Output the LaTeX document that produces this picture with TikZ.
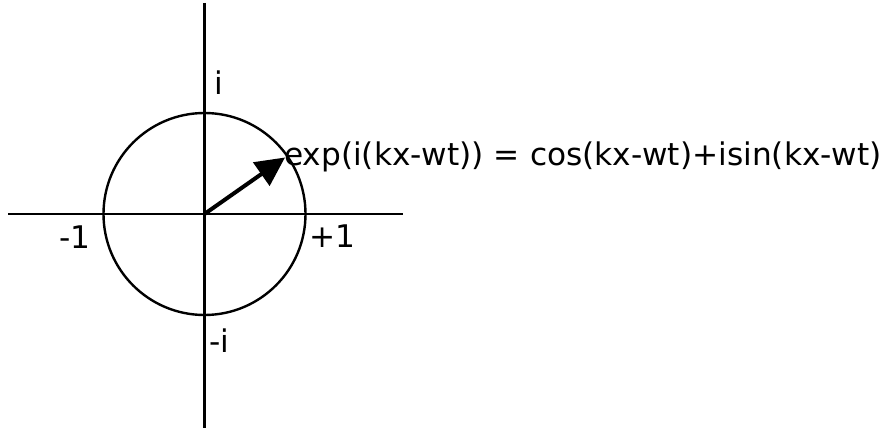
\documentclass[tikz,border=0pt]{standalone}
\usepackage{fontspec}
\setmainfont{DejaVu Sans}
\usetikzlibrary{arrows.meta}
\tikzset{
  axis/.style={line width=2.4pt},
  lbl/.style={inner sep=0pt, anchor=base west, font=\fontsize{31.2}{36}\selectfont},
  vec/.style={line width=4pt, -{Triangle[length=29pt,width=28pt]}}
}
\begin{document}
\begin{tikzpicture}[x=1pt,y=-1pt]
\useasboundingbox (0,0) rectangle (890,430);
\coordinate (O) at (204.5,214);
\coordinate (xl) at (8,214);
\coordinate (xr) at (403,214);
\coordinate (yt) at (204.5,3);
\coordinate (yb) at (204.5,428);
\coordinate (tip) at (285,157.5);
\draw[axis] (xl) -- (xr);
\draw[axis] (yt) -- (yb);
\draw[axis] (O) circle[radius=101];
\draw[vec] (O) -- (tip);
\node[lbl] (li) at (214,95) {i};
\node[lbl] (lmi) at (209,352) {-i};
\node[lbl] (lm1) at (59,248) {-1};
\node[lbl] (lp1) at (309,247) {+1};
\node[lbl] (eq) at (284,166) {exp(i(kx-wt)) = cos(kx-wt)+isin(kx-wt)};
\end{tikzpicture}
\end{document}
